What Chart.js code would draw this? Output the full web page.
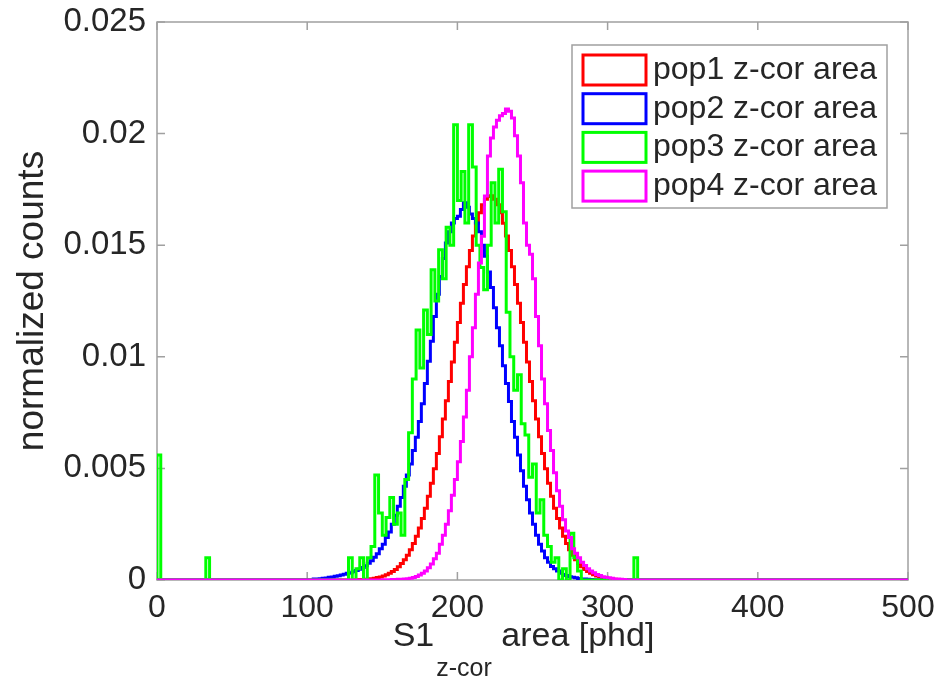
<!DOCTYPE html>
<html lang="en">
<head>
<meta charset="UTF-8">
<title>S1 z-cor area</title>
<script src="https://cdn.jsdelivr.net/npm/chart.js@4/dist/chart.umd.min.js"></script>
<style>
  html, body { margin: 0; padding: 0; background: #fff; }
  canvas { display: block; }
</style>
</head>
<body>
<canvas id="chart" width="940" height="689"></canvas>
<script>
const seriesLabels = ['pop1 z-cor area', 'pop2 z-cor area', 'pop3 z-cor area', 'pop4 z-cor area'];
const seriesColors = ['#ff0000', '#0000ff', '#00ff00', '#ff00ff'];
const xTickLabels  = ['0', '100', '200', '300', '400', '500'];
const yTickLabels  = ['0', '0.005', '0.01', '0.015', '0.02', '0.025'];
const xRange = [0, 500];

// histogram bins: first left edge, bin width, normalized counts per bin
const pop1Start = 132, pop1Width = 2;
const pop1 = [0.000013, 0.000018, 0.000025, 0.000034, 0.000045, 0.00006, 0.00008, 0.00011, 0.00014, 0.00018,
  0.00023, 0.00030, 0.00038, 0.00047, 0.00059, 0.00074, 0.00091, 0.00111, 0.00135, 0.00163,
  0.00196, 0.00233, 0.00275, 0.00322, 0.00375, 0.00434, 0.00498, 0.00567, 0.00642, 0.00721,
  0.00803, 0.00889, 0.00977, 0.01065, 0.01154, 0.01240, 0.01324, 0.01403, 0.01476, 0.01541,
  0.01598, 0.01645, 0.01681, 0.01706, 0.01718, 0.01722, 0.01706, 0.01681, 0.01645, 0.01598,
  0.01541, 0.01476, 0.01403, 0.01324, 0.01240, 0.01154, 0.01065, 0.00977, 0.00889, 0.00803,
  0.00721, 0.00642, 0.00567, 0.00498, 0.00434, 0.00375, 0.00322, 0.00275, 0.00233, 0.00196,
  0.00163, 0.00135, 0.00111, 0.00091, 0.00074, 0.00059, 0.00047, 0.00038, 0.00030, 0.00023,
  0.00018, 0.00014, 0.00011, 0.00008, 0.00006, 0.000045, 0.000034, 0.000025, 0.000018, 0.000013];

const pop2Start = 104, pop2Width = 2;
const pop2 = [0.00004, 0.00005, 0.00006, 0.00008, 0.00009, 0.00012, 0.00014, 0.00017, 0.00019, 0.00022,
  0.00026, 0.00030, 0.00033, 0.00037, 0.00043, 0.00048, 0.00056, 0.00064, 0.00075, 0.00086,
  0.00102, 0.00118, 0.00140, 0.00160, 0.00190, 0.00215, 0.00250, 0.00290, 0.00330, 0.00370,
  0.00420, 0.00470, 0.00520, 0.00580, 0.00640, 0.00710, 0.00790, 0.00880, 0.00980, 0.01070,
  0.01180, 0.01280, 0.01360, 0.01440, 0.01510, 0.01560, 0.01600, 0.01620, 0.01630, 0.01660,
  0.01690, 0.01670, 0.01640, 0.01620, 0.01600, 0.01560, 0.01500, 0.01450, 0.01380, 0.01310,
  0.01220, 0.01130, 0.01050, 0.00960, 0.00880, 0.00800, 0.00710, 0.00640, 0.00560, 0.00490,
  0.00420, 0.00360, 0.00300, 0.00250, 0.00200, 0.00160, 0.00130, 0.00100, 0.00080, 0.00060,
  0.00050, 0.00040, 0.00030, 0.00025, 0.00020, 0.00015, 0.00012, 0.00010, 0.00007, 0.00005,
  0.00004, 0.00003, 0.00002, 0.00001];

const pop3Start = 0, pop3Width = 2.5;
const pop3 = [0.0056, 0, 0, 0, 0, 0, 0, 0, 0, 0,
  0, 0, 0, 0.0010, 0, 0, 0, 0, 0, 0,
  0, 0, 0, 0, 0, 0, 0, 0, 0, 0,
  0, 0, 0, 0, 0, 0, 0, 0, 0, 0,
  0, 0, 0, 0, 0, 0, 0, 0, 0, 0,
  0, 0.0010, 0, 0.0005, 0.0010, 0, 0.0010, 0.0015, 0.0047, 0.0030,
  0.0020, 0.0028, 0.0037, 0.0025, 0.0030, 0.0020, 0.0045, 0.0066, 0.0090, 0.0112,
  0.0095, 0.0121, 0.0110, 0.0139, 0.0125, 0.0148, 0.0135, 0.0158, 0.0150, 0.0204,
  0.0170, 0.0183, 0.0160, 0.0204, 0.0185, 0.0150, 0.0140, 0.0130, 0.0150, 0.0178,
  0.0160, 0.0184, 0.0165, 0.0120, 0.0100, 0.0085, 0.0092, 0.0070, 0.0065, 0.0046,
  0.0052, 0.0030, 0.0036, 0.0020, 0.0015, 0.0008, 0.0010, 0, 0.0005, 0,
  0.0021, 0.0010, 0.0004, 0, 0, 0, 0, 0, 0, 0,
  0, 0, 0, 0, 0, 0, 0, 0.0010];

const pop4Start = 150, pop4Width = 2;
const pop4 = [0.00001, 0.00001, 0.00001, 0.00002, 0.00002, 0.00003, 0.00003, 0.00004, 0.00006, 0.00008,
  0.00011, 0.00016, 0.00022, 0.00030, 0.00040, 0.00055, 0.00072, 0.00095, 0.00120, 0.00160,
  0.00200, 0.00250, 0.00310, 0.00380, 0.00450, 0.00530, 0.00620, 0.00730, 0.00850, 0.01000,
  0.01130, 0.01280, 0.01420, 0.01540, 0.01720, 0.01900, 0.01980, 0.02030, 0.02060, 0.02080,
  0.02090, 0.02110, 0.02100, 0.02070, 0.01990, 0.01900, 0.01780, 0.01600, 0.01500, 0.01460,
  0.01350, 0.01180, 0.01050, 0.00900, 0.00790, 0.00670, 0.00580, 0.00480, 0.00400, 0.00330,
  0.00270, 0.00220, 0.00190, 0.00140, 0.00120, 0.00100, 0.00080, 0.00065, 0.00050, 0.00040,
  0.00033, 0.00025, 0.00020, 0.00015, 0.00012, 0.00010, 0.00008, 0.00005, 0.00004, 0.00003,
  0.00002];

const bins = [
  [pop1Start, pop1Width, pop1],
  [pop2Start, pop2Width, pop2],
  [pop3Start, pop3Width, pop3],
  [pop4Start, pop4Width, pop4],
];

// MATLAB-style stairs outline: zero baseline over the whole range, drop to 0 after the last bin
function stairs(start, width, values) {
  const pts = [{ x: xRange[0], y: 0 }];
  values.forEach((v, i) => pts.push({ x: start + i * width, y: v }));
  pts.push({ x: start + values.length * width, y: 0 });
  pts.push({ x: xRange[1], y: 0 });
  return pts;
}

const FONT = '"Liberation Sans", Arial, Helvetica, sans-serif';
const TEXT = '#262626';
const AXIS = '#a0a0a0';

const axesBox = {
  id: 'axesBox',
  beforeDatasetsDraw(chart) {
    const { ctx, chartArea: a, scales: { x, y } } = chart;
    ctx.save();
    ctx.strokeStyle = AXIS;
    ctx.lineWidth = 1.5;
    ctx.strokeRect(a.left, a.top, a.right - a.left, a.bottom - a.top);
    ctx.beginPath();
    x.ticks.forEach(t => {
      const px = x.getPixelForValue(t.value);
      ctx.moveTo(px, a.bottom); ctx.lineTo(px, a.bottom - 8);
      ctx.moveTo(px, a.top);    ctx.lineTo(px, a.top + 8);
    });
    y.ticks.forEach(t => {
      const py = y.getPixelForValue(t.value);
      ctx.moveTo(a.left, py);  ctx.lineTo(a.left + 8, py);
      ctx.moveTo(a.right, py); ctx.lineTo(a.right - 8, py);
    });
    ctx.stroke();
    ctx.restore();
  },
  afterDraw(chart) {
    const { ctx, chartArea: a } = chart;
    ctx.save();
    // legend
    ctx.fillStyle = '#fff';
    ctx.fillRect(572, 45, 315, 163);
    ctx.strokeStyle = AXIS;
    ctx.lineWidth = 1.5;
    ctx.strokeRect(572, 45, 315, 163);
    ctx.font = '32px ' + FONT;
    ctx.textBaseline = 'middle';
    ctx.textAlign = 'left';
    chart.data.datasets.forEach((ds, i) => {
      const cy = 70 + 38.7 * i;
      ctx.strokeStyle = ds.borderColor;
      ctx.lineWidth = 3;
      ctx.strokeRect(583, cy - 15, 63, 30);
      ctx.fillStyle = TEXT;
      ctx.fillText(ds.label, 653, cy);
    });

    // x label with subscript
    const main1 = 'S1', sub = 'z-cor', main2 = ' area [phd]';
    ctx.textBaseline = 'alphabetic';
    ctx.font = '34px ' + FONT;
    const w1 = ctx.measureText(main1).width, w3 = ctx.measureText(main2).width;
    ctx.font = '25px ' + FONT;
    const w2 = ctx.measureText(sub).width;
    const sx = (a.left + a.right) / 2 - 10 - (w1 + w2 + w3) / 2;
    ctx.fillStyle = TEXT;
    ctx.font = '34px ' + FONT;
    ctx.fillText(main1, sx, 646);
    ctx.font = '25px ' + FONT;
    ctx.fillText(sub, sx + w1 + 2, 676);
    ctx.font = '34px ' + FONT;
    ctx.fillText(main2, sx + w1 + w2 + 2, 646);

    // y label
    ctx.translate(33, (a.top + a.bottom) / 2);
    ctx.rotate(-Math.PI / 2);
    ctx.textAlign = 'center';
    ctx.textBaseline = 'middle';
    ctx.font = '37px ' + FONT;
    ctx.fillText('normalized counts', 0, 0);
    ctx.restore();
  }
};

new Chart(document.getElementById('chart'), {
  type: 'line',
  data: {
    datasets: bins.map(([start, width, values], i) => ({
      label: seriesLabels[i],
      data: stairs(start, width, values),
      borderColor: seriesColors[i],
      borderWidth: 3,
      pointRadius: 0,
      stepped: 'before',
      fill: false,
      order: bins.length - i,
    })),
  },
  options: {
    responsive: false,
    animation: false,
    devicePixelRatio: 1,
    layout: { padding: { left: 0, top: 22, right: 32, bottom: 0 } },
    plugins: { legend: { display: false }, tooltip: { enabled: false } },
    scales: {
      x: {
        type: 'linear', min: xRange[0], max: xRange[1],
        grid: { display: false, drawTicks: false },
        border: { display: false },
        ticks: {
          stepSize: 100, padding: 9, color: TEXT, font: { family: FONT, size: 32 },
          callback: (v, i) => xTickLabels[i],
        },
        afterFit: s => { s.height = 109; s.paddingLeft = 0; s.paddingRight = 0; },
      },
      y: {
        min: 0, max: 0.025,
        grid: { display: false, drawTicks: false },
        border: { display: false },
        ticks: {
          stepSize: 0.005, padding: 11, color: TEXT, font: { family: FONT, size: 33 },
          callback: (v, i) => yTickLabels[i],
        },
        afterFit: s => { s.width = 157; s.paddingTop = 0; s.paddingBottom = 0; },
      },
    },
  },
  plugins: [axesBox],
});
</script>
</body>
</html>
